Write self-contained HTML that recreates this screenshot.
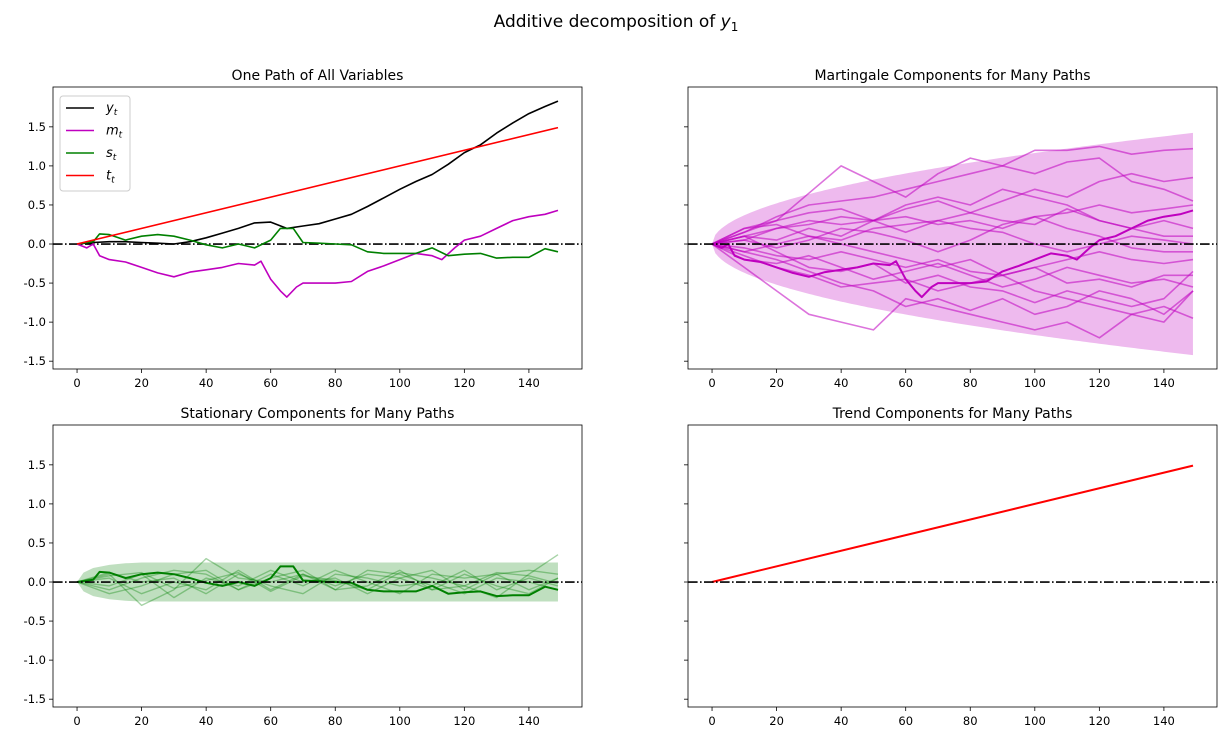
<!DOCTYPE html>
<html><head><meta charset="utf-8">
<style>
html,body{margin:0;padding:0;background:#fff;}
svg{display:block;font-family:"DejaVu Sans","Liberation Sans",sans-serif;}
</style></head>
<body>
<svg id="fig" width="1225" height="739" viewBox="0 0 1225 739" xmlns="http://www.w3.org/2000/svg">
<text x="616" y="27" font-size="17" text-anchor="middle">Additive decomposition of <tspan font-style="italic">y</tspan><tspan font-size="12" dy="4">1</tspan></text>
</svg>
<script>
// ---- data ----
const tGrid = [0,5,10,15,20,25,30,35,40,45,50,55,60,65,70,75,80,85,90,95,100,105,110,115,120,125,130,135,140,145,149];
const yPath = [0,0.02,0.03,0.03,0.02,0.01,0,0.03,0.08,0.14,0.2,0.27,0.28,0.2,0.23,0.26,0.32,0.38,0.48,0.59,0.7,0.8,0.89,1.02,1.17,1.27,1.42,1.55,1.67,1.76,1.83];
const mTimes = [0,3,5,7,10,15,20,25,30,35,40,45,50,55,57,60,63,65,68,70,75,80,85,90,95,100,105,110,113,117,120,125,130,135,140,145,149];
const mPath = [0,-0.05,0,-0.15,-0.2,-0.23,-0.3,-0.37,-0.42,-0.36,-0.33,-0.3,-0.25,-0.27,-0.22,-0.45,-0.6,-0.68,-0.55,-0.5,-0.5,-0.5,-0.48,-0.35,-0.28,-0.2,-0.12,-0.15,-0.2,-0.05,0.05,0.1,0.2,0.3,0.35,0.38,0.43];
const sTimes = [0,5,7,10,15,20,25,30,35,40,45,50,55,60,63,67,70,75,80,85,90,95,100,105,110,115,120,125,130,135,140,145,149];
const sPath = [0,0.03,0.13,0.12,0.05,0.1,0.12,0.1,0.05,-0.01,-0.05,0,-0.05,0.05,0.2,0.2,0.02,0.01,0,-0.01,-0.1,-0.12,-0.12,-0.12,-0.05,-0.15,-0.13,-0.12,-0.18,-0.17,-0.17,-0.06,-0.1];
const trendSlope = 0.01;
const coarseT = [0,10,20,30,40,50,60,70,80,90,100,110,120,130,140,149];
const mPaths = [
 [0,0.2,0.3,0.65,1.0,0.8,0.6,0.9,1.1,1.0,1.2,1.2,1.25,1.15,1.2,1.22],
 [0,-0.3,-0.6,-0.9,-1.0,-1.1,-0.7,-0.8,-0.9,-1.0,-1.1,-1.0,-1.2,-0.9,-0.8,-0.95],
 [0,0.15,0.35,0.5,0.55,0.6,0.7,0.8,0.9,1.0,0.9,1.05,1.1,0.8,0.7,0.55],
 [0,-0.1,-0.2,-0.35,-0.5,-0.6,-0.8,-0.7,-0.85,-0.7,-0.9,-0.8,-0.6,-0.7,-0.9,-0.6],
 [0,0.1,0.2,0.3,0.25,0.3,0.35,0.25,0.3,0.2,0.35,0.4,0.5,0.4,0.45,0.5],
 [0,-0.05,-0.15,-0.2,-0.1,-0.2,-0.3,-0.2,-0.35,-0.4,-0.3,-0.2,-0.1,-0.2,-0.25,-0.2],
 [0,0.1,0.05,0.2,0.1,0.3,0.5,0.6,0.5,0.7,0.6,0.5,0.3,0.2,0.1,0.1],
 [0,-0.15,-0.3,-0.4,-0.55,-0.5,-0.45,-0.6,-0.5,-0.4,-0.3,-0.5,-0.45,-0.55,-0.4,-0.4],
 [0,0.2,0.25,0.1,0,-0.1,-0.2,-0.3,-0.2,-0.4,-0.6,-0.7,-0.8,-0.9,-1.0,-0.6],
 [0,0.05,0.2,0.25,0.35,0.3,0.15,0.3,0.4,0.55,0.7,0.6,0.8,0.9,0.8,0.85],
 [0,-0.1,0,0.1,0.05,0.2,0.25,0.3,0.2,0.15,0,-0.1,0,0.1,0.05,0],
 [0,0.1,-0.1,-0.3,-0.35,-0.25,-0.5,-0.4,-0.55,-0.6,-0.75,-0.6,-0.7,-0.8,-0.7,-0.35],
 [0,0.15,0.3,0.4,0.45,0.3,0.45,0.55,0.4,0.3,0.25,0.45,0.3,0.2,0.3,0.2],
 [0,-0.2,-0.25,-0.15,-0.3,-0.45,-0.35,-0.25,-0.4,-0.55,-0.45,-0.3,-0.4,-0.5,-0.45,-0.55],
 [0,0.05,-0.05,0.05,0.2,0.15,0.05,-0.1,0.05,0.25,0.35,0.2,0.1,-0.05,-0.1,-0.1]
];
const sPaths = [
 [0,0.1,-0.3,-0.1,0.3,0.05,0,0.1,-0.05,0.1,0.05,-0.1,-0.05,-0.2,0.1,0.35],
 [0,-0.1,0.05,0.15,0.1,-0.1,0.1,-0.05,0.15,0,-0.15,0.1,0.05,0.1,-0.1,0.05],
 [0,0.05,-0.15,0,-0.1,0.15,-0.1,0.1,-0.1,0.15,0.1,-0.05,0.15,-0.1,0.05,-0.05],
 [0,-0.05,0.1,-0.2,0.05,-0.05,0.15,0,0.05,-0.15,0.05,0.15,-0.1,0.1,0.15,0.1],
 [0,0.12,0,0.05,-0.15,0.1,-0.05,-0.15,0.1,0.05,-0.05,0,-0.15,0.05,0,-0.1],
 [0,-0.15,-0.05,0.1,0.15,-0.1,0.05,0.15,-0.1,-0.05,0.15,-0.1,0.1,-0.05,-0.15,0.05],
 [0,0.08,0.12,-0.08,0.02,0.12,-0.12,0.08,0.02,-0.1,0.12,0.05,-0.05,0.12,0.08,-0.02]
];
const sBandT = [0,2,5,10,15,20,149];
const sBand = [0,0.12,0.18,0.22,0.24,0.25,0.25];
const mBandScale = 0.1165;
const xTicks = [0,20,40,60,80,100,120,140];
const yTicks = [-1.5,-1.0,-0.5,0.0,0.5,1.0,1.5];

// ---- drawing ----
const NS = 'http://www.w3.org/2000/svg';
const fig = document.getElementById('fig');
function mk(tag, attrs, parent){const e=document.createElementNS(NS,tag);for(const k in attrs)e.setAttribute(k,attrs[k]);(parent||fig).appendChild(e);return e;}
const X0=-7.45,X1=156.45,Y0=-1.6,Y1=2.01;
function panel(x,y,w,h,title,name,showY){
  const g=mk('g',{});
  
  
  const sx=v=>x+(v-X0)/(X1-X0)*w, sy=v=>y+h-(v-Y0)/(Y1-Y0)*h;
  const t=mk('text',{x:x+w/2,y:y-7,'font-size':14,'text-anchor':'middle'},g);t.textContent=title;
  
  
  xTicks.forEach(v=>{mk('line',{x1:sx(v),x2:sx(v),y1:y+h,y2:y+h+4,stroke:'#000','stroke-width':0.8},g);
    const l=mk('text',{x:sx(v),y:y+h+18,'font-size':11.5,'text-anchor':'middle'},g);l.textContent=v;
    
    });
  yTicks.forEach(v=>{mk('line',{x1:x-4,x2:x,y1:sy(v),y2:sy(v),stroke:'#000','stroke-width':0.8},g);
    if(showY){const l=mk('text',{x:x-7,y:sy(v)+4,'font-size':11.5,'text-anchor':'end'},g);l.textContent=v.toFixed(1);
    
    }});
  const plot=mk('g',{},g);
  const cp='clip'+name;const d=mk('clipPath',{id:cp},g);mk('rect',{x,y,width:w,height:h},d);
  plot.setAttribute('clip-path','url(#'+cp+')');
  mk('rect',{x,y,width:w,height:h,fill:'none',stroke:'#000','stroke-width':0.8},g);
  return {g:plot,sx,sy,x,w,frame:g};
}
function line(p,ts,vs,color,sw,op,name){
  const pts=ts.map((t,i)=>p.sx(t).toFixed(1)+','+p.sy(vs[i]).toFixed(1)).join(' ');
  const e=mk('polyline',{points:pts,fill:'none',stroke:color,'stroke-width':sw,'stroke-opacity':op,'stroke-linejoin':'round'},p.g);
  
  
  return e;
}
function zero(p){const e=mk('line',{x1:p.x,x2:p.x+p.w,y1:p.sy(0),y2:p.sy(0),stroke:'#000','stroke-width':1.6,'stroke-dasharray':'9.6,2.4,1.6,2.4'},p.g);
  
  }
function band(p,ts,up,lo,color,op,name){
  let d='M'+ts.map((t,i)=>p.sx(t)+','+p.sy(up[i])).join('L');
  for(let i=ts.length-1;i>=0;i--)d+='L'+p.sx(ts[i])+','+p.sy(lo[i]);
  const e=mk('path',{d:d+'Z',fill:color,'fill-opacity':op,stroke:'none'},p.g);
  
  
}
const W=529,H=282;
// panel 1
const p1=panel(53,87,W,H,'One Path of All Variables','one-path-panel',true);
zero(p1);
line(p1,tGrid,yPath,'#000',1.6,1,'y-line');
line(p1,mTimes,mPath,'#bf00bf',1.6,1,'m-line');
line(p1,sTimes,sPath,'#008000',1.6,1,'s-line');
line(p1,[0,149],[0,149*trendSlope],'#ff0000',1.6,1,'t-line');
// legend
const lg=mk('g',{},p1.frame);


mk('rect',{x:60,y:96,width:70,height:95,rx:3,fill:'#fff','fill-opacity':0.8,stroke:'#ccc'},lg);
[['y','#000'],['m','#bf00bf'],['s','#008000'],['t','#ff0000']].forEach((e,i)=>{
  const yy=108+i*22.5;
  mk('line',{x1:66,x2:94,y1:yy,y2:yy,stroke:e[1],'stroke-width':1.6},lg);
  const tx=mk('text',{x:106,y:yy+4,'font-size':13,'font-style':'italic'},lg);
  tx.innerHTML=e[0]+'<tspan font-size="9" dy="3">t</tspan>';
  
  
});
// panel 2
const p2=panel(688,87,W,H,'Martingale Components for Many Paths','martingale-panel',false);
const bt=[],bu=[],bl=[];for(let t=0;t<=149;t+=1){bt.push(t);bu.push(mBandScale*Math.sqrt(t));bl.push(-mBandScale*Math.sqrt(t));}
band(p2,bt,bu,bl,'#bf00bf',0.27,'martingale-band');
mPaths.forEach((v,i)=>line(p2,coarseT,v,'#bf00bf',1.6,0.55,'martingale-path-'+i));
line(p2,mTimes,mPath,'#bf00bf',2,1,'martingale-highlight');
zero(p2);
// panel 3
const p3=panel(53,425,W,H,'Stationary Components for Many Paths','stationary-panel',true);
band(p3,sBandT,sBand,sBand.map(v=>-v),'#008000',0.25,'stationary-band');
sPaths.forEach((v,i)=>line(p3,coarseT,v,'#008000',1.4,0.35,'stationary-path-'+i));
line(p3,sTimes,sPath,'#008000',2,1,'stationary-highlight');
zero(p3);
// panel 4
const p4=panel(688,425,W,H,'Trend Components for Many Paths','trend-panel',false);
line(p4,[0,149],[0,149*trendSlope],'#ff0000',2,1,'trend-line');
zero(p4);
</script>
</body></html>
